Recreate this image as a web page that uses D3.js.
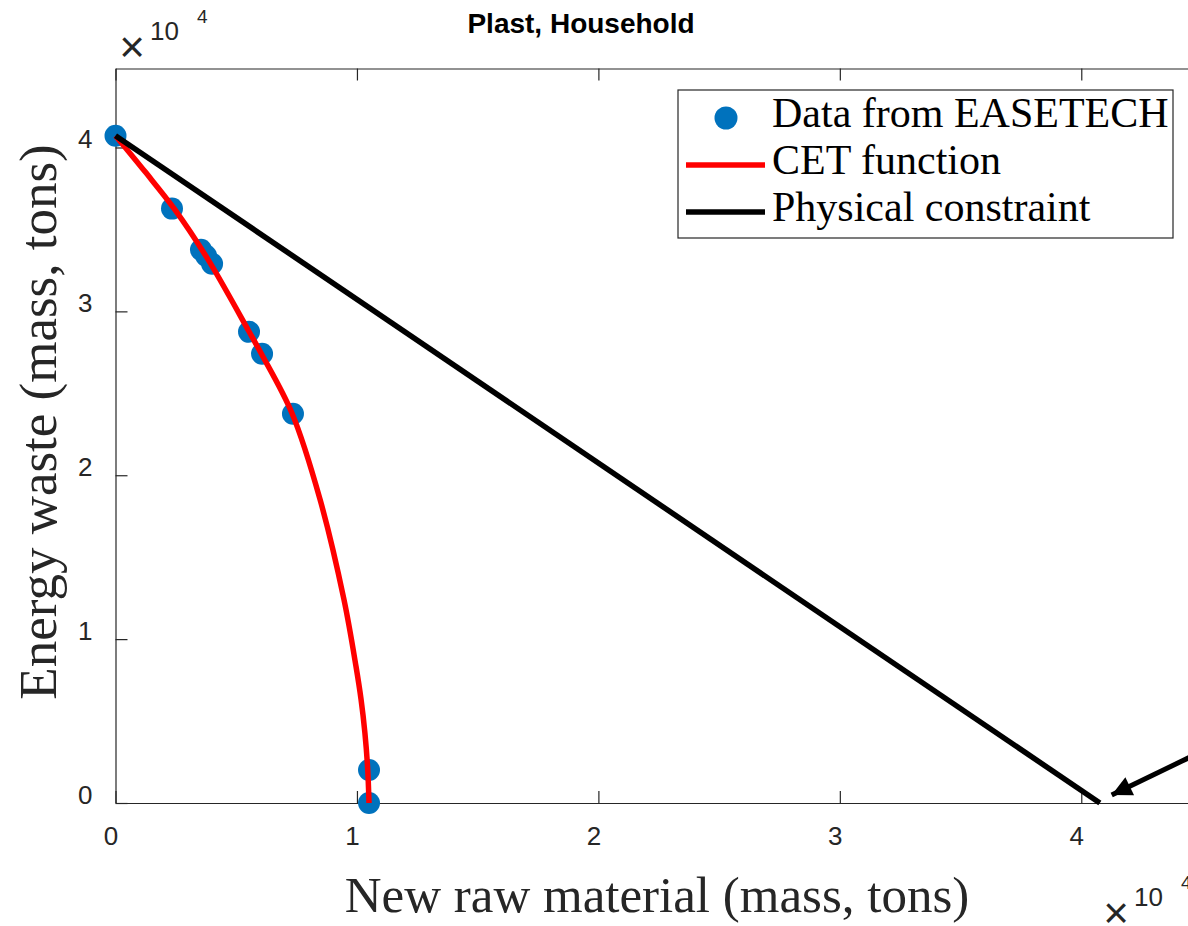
<!DOCTYPE html>
<html>
<head>
<meta charset="utf-8">
<script src="https://cdn.jsdelivr.net/npm/d3@7"></script>
<style>
  body { margin: 0; background: #fff; }
  svg { display: block; }
</style>
</head>
<body>
<script>
// tick values (in units of 10^4 tons)
const xTicks = [0, 10000, 20000, 30000, 40000];
const yTicks = [0, 10000, 20000, 30000, 40000];

// EASETECH data points (tons)
const dataX = [0, 2340, 3540, 3750, 4000, 5530, 6070, 7350, 10500, 10500];
const dataY = [40720, 36270, 33760, 33390, 32910, 28750, 27410, 23750, 2010, 0];

// CET function
const cetX = [0, 1220, 2460, 3830, 5530, 6030, 7310, 8470, 9460, 9960, 10170, 10330, 10440, 10500];
const cetY = [40720, 38530, 36210, 33170, 28770, 27440, 23780, 18530, 12430, 8340, 6320, 4270, 2200, 0];

// physical constraint line
const physX = [0, 40770];
const physY = [40720, 0];

// arrow annotation (tail, tip)
const arrowX = [46150, 41260];
const arrowY = [3970, 490];

const legendLabels = ['Data from EASETECH', 'CET function', 'Physical constraint'];
const titleText = 'Plast, Household';
const xLabel = 'New raw material (mass, tons)';
const yLabel = 'Energy waste (mass, tons)';

let width = 1188;
let height = 926;

const svg = d3.select('body')
    .append('svg')
    .attr('width', width)
    .attr('height', height);

svg.append('rect').attr('width', width).attr('height', height).attr('fill', '#fff');

const plotLeft = 115.5, plotRight = 1202, plotTop = 68.5, plotBottom = 803;

let x = d3.scaleLinear().domain([0, 45000]).range([plotLeft, plotRight]);
let y = d3.scaleLinear().domain([0, 44820]).range([plotBottom, plotTop]);

const axisColor = '#262626';
const sans = '"Liberation Sans", Arial, Helvetica, sans-serif';
const serif = '"Liberation Serif", "Times New Roman", serif';

// axes
let fmt = d => d / 10000;

let gx = svg.append('g')
    .attr('transform', 'translate(0,' + plotBottom + ')')
    .call(d3.axisBottom(x).tickValues(xTicks).tickFormat(fmt).tickSize(-12).tickSizeOuter(0).tickPadding(0));
let gy = svg.append('g')
    .attr('transform', 'translate(' + plotLeft + ',0)')
    .call(d3.axisLeft(y).tickValues(yTicks).tickFormat(fmt).tickSize(-12).tickSizeOuter(0).tickPadding(23));
let gt = svg.append('g')
    .attr('transform', 'translate(0,' + plotTop + ')')
    .call(d3.axisTop(x).tickValues(xTicks).tickFormat('').tickSize(-12).tickSizeOuter(0));
let gr = svg.append('g')
    .attr('transform', 'translate(' + plotRight + ',0)')
    .call(d3.axisRight(y).tickValues(yTicks).tickFormat('').tickSize(-12).tickSizeOuter(0));

[gx, gy, gt, gr].forEach(g => {
    g.selectAll('path, line').attr('stroke', axisColor).attr('stroke-width', 1.2);
    g.selectAll('text').attr('fill', axisColor).attr('font-family', sans).attr('font-size', 26);
});
gx.selectAll('text').attr('dy', null).attr('y', 42).attr('x', -5);
gy.selectAll('text').attr('dy', null).attr('y', 0);

// markers
svg.append('g')
    .selectAll('circle')
    .data(dataX.map((d, i) => [d, dataY[i]]))
    .enter()
    .append('circle')
    .attr('cx', d => x(d[0]))
    .attr('cy', d => y(d[1]))
    .attr('r', 11)
    .attr('fill', '#0072BD');

// CET curve
let line = d3.line().x(d => x(d[0])).y(d => y(d[1]));
svg.append('path')
    .datum(cetX.map((d, i) => [d, cetY[i]]))
    .attr('d', line.curve(d3.curveCatmullRom))
    .attr('fill', 'none')
    .attr('stroke', '#ff0000')
    .attr('stroke-width', 5.5);

// physical constraint
svg.append('path')
    .datum(physX.map((d, i) => [d, physY[i]]))
    .attr('d', d3.line().x(d => x(d[0])).y(d => y(d[1])))
    .attr('fill', 'none')
    .attr('stroke', '#000')
    .attr('stroke-width', 5.5);

// arrow
svg.append('defs').append('marker')
    .attr('id', 'head')
    .attr('viewBox', '0 0 10 10')
    .attr('refX', 10)
    .attr('refY', 5)
    .attr('markerUnits', 'userSpaceOnUse')
    .attr('markerWidth', 24)
    .attr('markerHeight', 20)
    .attr('orient', 'auto')
    .append('path')
    .attr('d', 'M0,0 L10,5 L0,10 Z')
    .attr('fill', '#000');

svg.append('line')
    .attr('x1', x(arrowX[0])).attr('y1', y(arrowY[0]))
    .attr('x2', x(arrowX[1])).attr('y2', y(arrowY[1]))
    .attr('stroke', '#000')
    .attr('stroke-width', 5)
    .attr('marker-end', 'url(#head)');

// legend
let lg = svg.append('g');
lg.append('rect')
    .attr('x', 678).attr('y', 90)
    .attr('width', 495).attr('height', 148)
    .attr('fill', '#fff')
    .attr('stroke', axisColor)
    .attr('stroke-width', 1.2);

legendLabels.forEach((lab, i) => {
    let ry = 118 + i * 47;
    if (i === 0) {
        lg.append('circle').attr('cx', 726).attr('cy', ry).attr('r', 11.5).attr('fill', '#0072BD');
    } else {
        lg.append('line')
            .attr('x1', 686).attr('x2', 765)
            .attr('y1', ry).attr('y2', ry)
            .attr('stroke', i === 1 ? '#ff0000' : '#000')
            .attr('stroke-width', 5.5);
    }
    lg.append('text')
        .attr('x', 772)
        .attr('y', ry + 9)
        .attr('font-family', serif)
        .attr('font-size', 42)
        .attr('fill', '#000')
        .text(lab);
});

// title
svg.append('text')
    .attr('x', 581)
    .attr('y', 33)
    .attr('text-anchor', 'middle')
    .attr('font-family', sans)
    .attr('font-weight', 'bold')
    .attr('font-size', 28)
    .attr('fill', '#000')
    .text(titleText);

// axis labels
svg.append('text')
    .attr('x', 657)
    .attr('y', 912)
    .attr('text-anchor', 'middle')
    .attr('font-family', serif)
    .attr('font-size', 51)
    .attr('fill', axisColor)
    .text(xLabel);

svg.append('text')
    .attr('transform', 'translate(56,422) rotate(-90)')
    .attr('text-anchor', 'middle')
    .attr('font-family', serif)
    .attr('font-size', 53)
    .attr('fill', axisColor)
    .text(yLabel);

// exponent labels
function exponent(cx, cy) {
    svg.append('text')
        .attr('x', cx).attr('y', cy + 14)
        .attr('text-anchor', 'middle')
        .attr('font-family', sans)
        .attr('font-size', 44)
        .attr('fill', axisColor)
        .text('\u00d7');
    svg.append('text')
        .attr('x', cx + 18).attr('y', cy - 8)
        .attr('font-family', sans)
        .attr('font-size', 26)
        .attr('fill', axisColor)
        .text('10');
    svg.append('text')
        .attr('x', cx + 65).attr('y', cy - 25)
        .attr('font-family', sans)
        .attr('font-size', 19)
        .attr('fill', axisColor)
        .text('4');
}
exponent(132, 48);
exponent(1116, 914);
</script>
</body>
</html>
